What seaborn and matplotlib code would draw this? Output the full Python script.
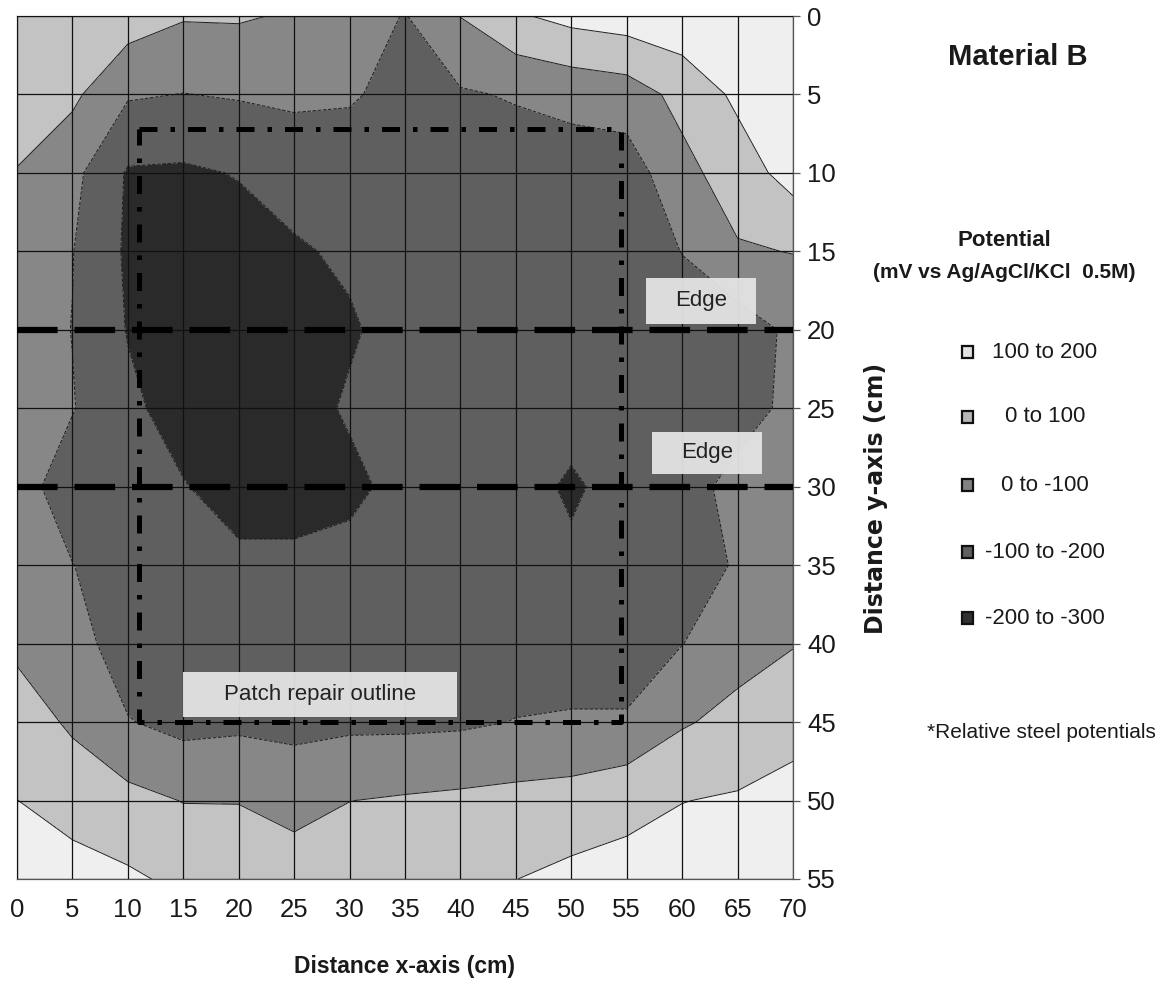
import numpy as np
import matplotlib
matplotlib.use("Agg")
import matplotlib.pyplot as plt
from matplotlib.patches import Rectangle
import seaborn as sns

# ---------------- data ----------------
x_cm = [0, 5, 10, 15, 20, 25, 30, 35, 40, 45, 50, 55, 60, 65, 70]
y_cm = [0, 5, 10, 15, 20, 25, 30, 35, 40, 45, 50, 55]

# relative steel potential (mV) read along each row y (x = 0..70)
pot_y00 = [90, 70, 50, 8, 10, -10, -50, -105, 2, 88, 130, 150, 170, 180, 180]
pot_y05 = [60, 20, -90, -102, -92, -85, -90, -130, -110, -92, -70, -50, 30, 120, 170]
pot_y10 = [-5, -72, -210, -215, -195, -150, -150, -150, -150, -150, -150, -150, -30, 50, 140]
pot_y15 = [-40, -97, -215, -240, -240, -215, -180, -150, -150, -150, -150, -150, -98, -10, 3]
pot_y20 = [-50, -102, -205, -260, -260, -250, -215, -150, -150, -150, -150, -150, -140, -150, -80]
pot_y25 = [-50, -95, -180, -240, -260, -250, -185, -150, -150, -150, -160, -150, -150, -150, -70]
pot_y30 = [-60, -150, -150, -195, -240, -240, -230, -160, -150, -160, -215, -160, -150, -60, -50]
pot_y35 = [-50, -98, -150, -150, -180, -180, -160, -150, -150, -150, -180, -150, -150, -90, -50]
pot_y40 = [-20, -60, -150, -150, -150, -150, -150, -150, -150, -150, -150, -150, -102, -40, -5]
pot_y45 = [50, -15, -95, -130, -120, -125, -120, -120, -115, -97, -90, -90, -10, 30, 70]
pot_y50 = [101, 60, 30, -3, -3, -40, -1, 10, 20, 30, 40, 75, 98, 110, 130]
pot_y55 = [150, 140, 115, 80, 60, 60, 60, 60, 60, 99, 125, 130, 150, 160, 170]

levels = [-300, -200, -100, 0, 100, 200]
legend_labels = ["100 to 200", "0 to 100", "0 to -100", "-100 to -200", "-200 to -300"]

edge_lines_y = [20, 30]
patch_x = [11, 54.5]
patch_y = [7.2, 45]

x_ticks = list(range(0, 71, 5))
y_ticks = list(range(0, 56, 5))

# ---------------- style ----------------
sns.set_theme(style="white")
FONT = ["Liberation Sans", "DejaVu Sans"]
plt.rcParams["font.family"] = FONT

fill_colors = ["#2a2a2a", "#5f5f5f", "#878787", "#c3c3c3", "#efefef"]  # low -> high
legend_colors = ["#e2e2e2", "#b8b8b8", "#828282", "#606060", "#303030"]
TXT = "#1a1a1a"

W, H = 1157, 985
fig = plt.figure(figsize=(W / 100, H / 100), dpi=100)
ax = fig.add_axes([17 / W, 1 - 879 / H, 776 / W, 863 / H])

Z = np.array([pot_y00, pot_y05, pot_y10, pot_y15, pot_y20, pot_y25,
              pot_y30, pot_y35, pot_y40, pot_y45, pot_y50, pot_y55], dtype=float)
X, Y = np.meshgrid(x_cm, y_cm)

ax.contourf(X, Y, Z, levels=levels, colors=fill_colors, zorder=1)
ax.contour(X, Y, Z, levels=levels[1:-1], colors="#1e1e1e", linewidths=0.7, zorder=1.5)

ax.set_xlim(0, 70)
ax.set_ylim(55, 0)
ax.set_xticks(x_ticks)
ax.set_yticks(y_ticks)
ax.yaxis.tick_right()
ax.grid(True, color="#111111", linewidth=0.9)
ax.set_axisbelow(False)
for s in ax.spines.values():
    s.set_color("#555555")
    s.set_linewidth(0.9)
ax.tick_params(axis="both", which="both", direction="out", length=5, width=0.9,
               color="#555555", labelsize=18.5, pad=5, labelcolor=TXT)
ax.tick_params(axis="x", pad=9)
ax.tick_params(axis="y", left=False, right=True)

# edge lines (dashed) and patch repair outline (dash-dot)
for yy in edge_lines_y:
    ax.plot([0, 70], [yy, yy], color="black", linewidth=4.5,
            dashes=(6.5, 2.7), solid_capstyle="butt", dash_capstyle="butt", zorder=4)
ax.plot([patch_x[0], patch_x[1], patch_x[1], patch_x[0], patch_x[0]],
        [patch_y[0], patch_y[0], patch_y[1], patch_y[1], patch_y[0]],
        color="black", linewidth=3.6, dashes=(3.6, 2.6, 0.9, 2.6),
        dash_capstyle="butt", zorder=4)

# annotation boxes
boxes = [("Edge", 56.7, 16.7, 10.0, 2.9),
         ("Edge", 57.3, 26.5, 9.9, 2.7),
         ("Patch repair outline", 15.0, 41.8, 24.7, 2.9)]
for txt, bx, by, bw, bh in boxes:
    ax.add_patch(Rectangle((bx, by), bw, bh, facecolor="#e6e6e6", edgecolor="none",
                           alpha=0.93, zorder=5))
    ax.text(bx + bw / 2, by + bh / 2, txt, ha="center", va="center",
            fontsize=16, color="#222222", zorder=6)

# axis labels
ax.set_xlabel("Distance x-axis (cm)", fontsize=16.5, fontweight="bold", color=TXT)
ax.xaxis.set_label_coords(0.5, -0.088)
fig.text(876 / W, 1 - 498 / H, "Distance y-axis (cm)", rotation=90, ha="center",
         va="center", fontsize=17, fontweight="bold", color=TXT,
         family=["DejaVu Sans"])

# legend / annotations on the right
fig.text(1018 / W, 1 - 57 / H, "Material B", ha="center", va="center",
         fontsize=21, fontweight="bold", color=TXT)
fig.text(1004 / W, 1 - 240 / H, "Potential", ha="center", va="center",
         fontsize=16, fontweight="bold", color=TXT)
fig.text(1004 / W, 1 - 272 / H, "(mV vs Ag/AgCl/KCl  0.5M)", ha="center", va="center",
         fontsize=15, fontweight="bold", color=TXT)

legend_rows_px = [352, 417, 485, 552, 618]
for lab, col, ypx in zip(legend_labels, legend_colors, legend_rows_px):
    fig.patches.append(Rectangle((962 / W, 1 - (ypx + 6) / H), 11 / W, 12 / H,
                                 transform=fig.transFigure, facecolor=col,
                                 edgecolor="#111111", linewidth=1.6, figure=fig))
    fig.text(1045 / W, 1 - ypx / H, lab, ha="center", va="center", fontsize=16,
             color=TXT)

fig.text(1041 / W, 1 - 733 / H, "*Relative steel potentials", ha="center", va="center",
         fontsize=15, color=TXT)

fig.savefig("out.png", dpi=100, facecolor="white")
